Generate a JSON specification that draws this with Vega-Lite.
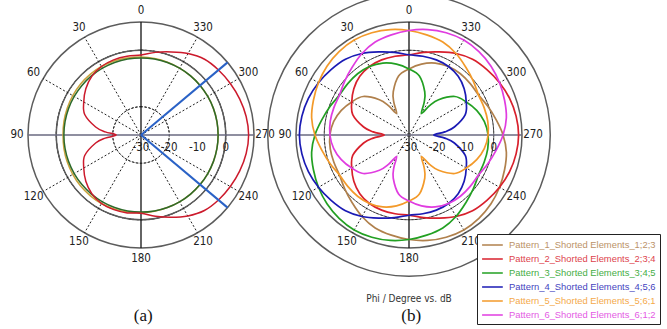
{
  "$schema": "https://vega.github.io/schema/vega-lite/v6.json",
  "width": 667,
  "height": 329,
  "padding": 0,
  "autosize": {"type": "none"},
  "background": "white",
  "config": {"view": {"stroke": null}},
  "datasets": {
    "rings": [
      {"panel": "a", "db": -20}, {"panel": "a", "db": -10}, {"panel": "a", "db": 0}, {"panel": "a", "db": 10},
      {"panel": "b", "db": -20}, {"panel": "b", "db": -10}, {"panel": "b", "db": 0}, {"panel": "b", "db": 10}
    ],
    "spokes": [
      {"panel": "a", "phi": 30}, {"panel": "a", "phi": 60}, {"panel": "a", "phi": 120}, {"panel": "a", "phi": 150},
      {"panel": "a", "phi": 210}, {"panel": "a", "phi": 240}, {"panel": "a", "phi": 300}, {"panel": "a", "phi": 330},
      {"panel": "b", "phi": 30}, {"panel": "b", "phi": 60}, {"panel": "b", "phi": 120}, {"panel": "b", "phi": 150},
      {"panel": "b", "phi": 210}, {"panel": "b", "phi": 240}, {"panel": "b", "phi": 300}, {"panel": "b", "phi": 330}
    ],
    "axes": [
      {"panel": "a", "phi": 0, "k": "v"}, {"panel": "a", "phi": 90, "k": "h"},
      {"panel": "b", "phi": 0, "k": "v"}, {"panel": "b", "phi": 90, "k": "h"}
    ],
    "beams": [{"panel": "a", "phi": 230}, {"panel": "a", "phi": 310}],
    "angles": [
      {"panel": "a", "phi": 0}, {"panel": "a", "phi": 30}, {"panel": "a", "phi": 60}, {"panel": "a", "phi": 90},
      {"panel": "a", "phi": 120}, {"panel": "a", "phi": 150}, {"panel": "a", "phi": 180}, {"panel": "a", "phi": 210},
      {"panel": "a", "phi": 240}, {"panel": "a", "phi": 270}, {"panel": "a", "phi": 300}, {"panel": "a", "phi": 330},
      {"panel": "b", "phi": 0}, {"panel": "b", "phi": 30}, {"panel": "b", "phi": 60}, {"panel": "b", "phi": 90},
      {"panel": "b", "phi": 120}, {"panel": "b", "phi": 150}, {"panel": "b", "phi": 180}, {"panel": "b", "phi": 210},
      {"panel": "b", "phi": 240}, {"panel": "b", "phi": 270}, {"panel": "b", "phi": 300}, {"panel": "b", "phi": 330}
    ],
    "rlab": [
      {"panel": "a", "db": -30, "lab": "-30"}, {"panel": "a", "db": -20, "lab": "-20"}, {"panel": "a", "db": -10, "lab": "-10"}, {"panel": "a", "db": 0, "lab": "0"},
      {"panel": "b", "db": -30, "lab": "-30"}, {"panel": "b", "db": -20, "lab": "-20"}, {"panel": "b", "db": -10, "lab": "-10"}, {"panel": "b", "db": 0, "lab": "0"}
    ],
    "caps": [{"panel": "a", "lab": "(a)"}, {"panel": "b", "lab": "(b)"}],
    "note": [{"panel": "b", "lab": "Phi / Degree vs. dB"}],
    "names": [
      {"p": "P1", "name": "Pattern_1_Shorted Elements_1;2;3"},
      {"p": "P2", "name": "Pattern_2_Shorted Elements_2;3;4"},
      {"p": "P3", "name": "Pattern_3_Shorted Elements_3;4;5"},
      {"p": "P4", "name": "Pattern_4_Shorted Elements_4;5;6"},
      {"p": "P5", "name": "Pattern_5_Shorted Elements_5;6;1"},
      {"p": "P6", "name": "Pattern_6_Shorted Elements_6;1;2"}
    ],
    "patA": [
      {"phi": 0, "red": -1.7, "green": -2.7, "olive": -2.4},
      {"phi": 10, "red": -1.7, "green": -2.7, "olive": -2.3},
      {"phi": 20, "red": -1.7, "green": -2.7, "olive": -2.1},
      {"phi": 30, "red": -2.0, "green": -2.7, "olive": -2.0},
      {"phi": 40, "red": -2.9, "green": -2.7, "olive": -2.0},
      {"phi": 50, "red": -4.5, "green": -2.7, "olive": -2.0},
      {"phi": 60, "red": -6.6, "green": -2.7, "olive": -2.1},
      {"phi": 70, "red": -8.8, "green": -2.7, "olive": -2.2},
      {"phi": 80, "red": -13.7, "green": -2.7, "olive": -2.3},
      {"phi": 85, "red": -17.3},
      {"phi": 90, "red": -21.2, "green": -2.7, "olive": -2.4},
      {"phi": 95, "red": -17.3},
      {"phi": 100, "red": -13.7, "green": -2.7, "olive": -2.3},
      {"phi": 110, "red": -8.8, "green": -2.7, "olive": -2.2},
      {"phi": 120, "red": -6.6, "green": -2.7, "olive": -2.1},
      {"phi": 130, "red": -4.5, "green": -2.7, "olive": -2.0},
      {"phi": 140, "red": -2.9, "green": -2.7, "olive": -2.0},
      {"phi": 150, "red": -2.0, "green": -2.7, "olive": -2.0},
      {"phi": 160, "red": -1.9, "green": -2.7, "olive": -2.1},
      {"phi": 170, "red": -2.0, "green": -2.7, "olive": -2.3},
      {"phi": 180, "red": -2.3, "green": -2.7, "olive": -2.5},
      {"phi": 190, "red": -0.8, "green": -2.7, "olive": -2.6},
      {"phi": 200, "red": 1.0, "green": -2.7, "olive": -2.7},
      {"phi": 210, "red": 3.1, "green": -2.7, "olive": -2.7},
      {"phi": 220, "red": 4.9, "green": -2.7, "olive": -2.7},
      {"phi": 230, "red": 5.8, "green": -2.7, "olive": -2.7},
      {"phi": 240, "red": 6.5, "green": -2.7, "olive": -2.7},
      {"phi": 250, "red": 7.2, "green": -2.7, "olive": -2.7},
      {"phi": 260, "red": 7.8, "green": -2.7, "olive": -2.7},
      {"phi": 270, "red": 8.1, "green": -2.7, "olive": -2.7},
      {"phi": 280, "red": 7.8, "green": -2.7, "olive": -2.7},
      {"phi": 290, "red": 7.2, "green": -2.7, "olive": -2.7},
      {"phi": 300, "red": 6.5, "green": -2.7, "olive": -2.7},
      {"phi": 310, "red": 5.8, "green": -2.7, "olive": -2.7},
      {"phi": 320, "red": 5.0, "green": -2.7, "olive": -2.7},
      {"phi": 330, "red": 3.3, "green": -2.7, "olive": -2.7},
      {"phi": 340, "red": 1.3, "green": -2.7, "olive": -2.6},
      {"phi": 350, "red": -0.3, "green": -2.7, "olive": -2.5}
    ],
    "patB": [
      {"phi": 0, "P1": -6.6, "P2": -1.6, "P3": -6.6, "P4": -1.6, "P5": 7.0, "P6": 7.0},
      {"phi": 10, "P1": -8.8, "P2": -1.7, "P3": -4.5, "P4": -0.3, "P5": 7.9, "P6": 6.0},
      {"phi": 20, "P1": -13.7, "P2": -1.7, "P3": -2.9, "P4": 1.3, "P5": 8.5, "P6": 5.0},
      {"phi": 25, "P1": -17.3},
      {"phi": 30, "P1": -21.2, "P2": -2.0, "P3": -2.0, "P4": 3.3, "P5": 8.8, "P6": 3.3},
      {"phi": 35, "P1": -17.3},
      {"phi": 40, "P1": -13.7, "P2": -2.9, "P3": -1.7, "P4": 5.0, "P5": 8.5, "P6": 1.3},
      {"phi": 50, "P1": -8.8, "P2": -4.5, "P3": -1.7, "P4": 6.0, "P5": 7.9, "P6": -0.3},
      {"phi": 60, "P1": -6.6, "P2": -6.6, "P3": -1.6, "P4": 7.0, "P5": 7.0, "P6": -1.6},
      {"phi": 70, "P1": -4.5, "P2": -8.8, "P3": -0.3, "P4": 7.9, "P5": 6.0, "P6": -1.7},
      {"phi": 80, "P1": -2.9, "P2": -13.7, "P3": 1.3, "P4": 8.5, "P5": 5.0, "P6": -1.7},
      {"phi": 85, "P2": -17.3},
      {"phi": 90, "P1": -2.0, "P2": -21.2, "P3": 3.3, "P4": 8.8, "P5": 3.3, "P6": -2.0},
      {"phi": 95, "P2": -17.3},
      {"phi": 100, "P1": -1.7, "P2": -13.7, "P3": 5.0, "P4": 8.5, "P5": 1.3, "P6": -2.9},
      {"phi": 110, "P1": -1.7, "P2": -8.8, "P3": 6.0, "P4": 7.9, "P5": -0.3, "P6": -4.5},
      {"phi": 120, "P1": -1.6, "P2": -6.6, "P3": 7.0, "P4": 7.0, "P5": -1.6, "P6": -6.6},
      {"phi": 130, "P1": -0.3, "P2": -4.5, "P3": 7.9, "P4": 6.0, "P5": -1.7, "P6": -8.8},
      {"phi": 140, "P1": 1.3, "P2": -2.9, "P3": 8.5, "P4": 5.0, "P5": -1.7, "P6": -13.7},
      {"phi": 145, "P6": -17.3},
      {"phi": 150, "P1": 3.3, "P2": -2.0, "P3": 8.8, "P4": 3.3, "P5": -2.0, "P6": -21.2},
      {"phi": 155, "P6": -17.3},
      {"phi": 160, "P1": 5.0, "P2": -1.7, "P3": 8.5, "P4": 1.3, "P5": -2.9, "P6": -13.7},
      {"phi": 170, "P1": 6.0, "P2": -1.7, "P3": 7.9, "P4": -0.3, "P5": -4.5, "P6": -8.8},
      {"phi": 180, "P1": 7.0, "P2": -1.6, "P3": 7.0, "P4": -1.6, "P5": -6.6, "P6": -6.6},
      {"phi": 190, "P1": 7.9, "P2": -0.3, "P3": 6.0, "P4": -1.7, "P5": -8.8, "P6": -4.5},
      {"phi": 200, "P1": 8.5, "P2": 1.3, "P3": 5.0, "P4": -1.7, "P5": -13.7, "P6": -2.9},
      {"phi": 205, "P5": -17.3},
      {"phi": 210, "P1": 8.8, "P2": 3.3, "P3": 3.3, "P4": -2.0, "P5": -21.2, "P6": -2.0},
      {"phi": 215, "P5": -17.3},
      {"phi": 220, "P1": 8.5, "P2": 5.0, "P3": 1.3, "P4": -2.9, "P5": -13.7, "P6": -1.7},
      {"phi": 230, "P1": 7.9, "P2": 6.0, "P3": -0.3, "P4": -4.5, "P5": -8.8, "P6": -1.7},
      {"phi": 240, "P1": 7.0, "P2": 7.0, "P3": -1.6, "P4": -6.6, "P5": -6.6, "P6": -1.6},
      {"phi": 250, "P1": 6.0, "P2": 7.9, "P3": -1.7, "P4": -8.8, "P5": -4.5, "P6": -0.3},
      {"phi": 260, "P1": 5.0, "P2": 8.5, "P3": -1.7, "P4": -13.7, "P5": -2.9, "P6": 1.3},
      {"phi": 265, "P4": -17.3},
      {"phi": 270, "P1": 3.3, "P2": 8.8, "P3": -2.0, "P4": -21.2, "P5": -2.0, "P6": 3.3},
      {"phi": 275, "P4": -17.3},
      {"phi": 280, "P1": 1.3, "P2": 8.5, "P3": -2.9, "P4": -13.7, "P5": -1.7, "P6": 5.0},
      {"phi": 290, "P1": -0.3, "P2": 7.9, "P3": -4.5, "P4": -8.8, "P5": -1.7, "P6": 6.0},
      {"phi": 300, "P1": -1.6, "P2": 7.0, "P3": -6.6, "P4": -6.6, "P5": -1.6, "P6": 7.0},
      {"phi": 310, "P1": -1.7, "P2": 6.0, "P3": -8.8, "P4": -4.5, "P5": -0.3, "P6": 7.9},
      {"phi": 320, "P1": -1.7, "P2": 5.0, "P3": -13.7, "P4": -2.9, "P5": 1.3, "P6": 8.5},
      {"phi": 325, "P3": -17.3},
      {"phi": 330, "P1": -2.0, "P2": 3.3, "P3": -21.2, "P4": -2.0, "P5": 3.3, "P6": 8.8},
      {"phi": 335, "P3": -17.3},
      {"phi": 340, "P1": -2.9, "P2": 1.3, "P3": -13.7, "P4": -1.7, "P5": 5.0, "P6": 8.5},
      {"phi": 350, "P1": -4.5, "P2": -0.3, "P3": -8.8, "P4": -1.7, "P5": 6.0, "P6": 7.9}
    ]
  },
  "encoding": {
    "x": {"field": "x", "type": "quantitative", "scale": {"domain": [0, 236.106], "nice": false, "zero": false}, "axis": null},
    "y": {"field": "y", "type": "quantitative", "scale": {"domain": [0, 116.46], "nice": false, "zero": false}, "axis": null}
  },
  "layer": [
    {
      "data": {"name": "rings"},
      "transform": [
        {"filter": "datum.db < 10"},
        {"calculate": "datum.panel == 'a' ? 49.912 : 144.779", "as": "x"},
        {"calculate": "68.673", "as": "y"}
      ],
      "mark": {"type": "arc", "filled": false, "fillOpacity": 0, "stroke": "#222222", "strokeWidth": 1, "strokeDash": [2, 2], "theta": 0, "theta2": 6.2832},
      "encoding": {"radius": {"field": "db", "type": "quantitative", "scale": {"type": "linear", "domain": [-30, 10], "range": [0, 113], "zero": false}}}
    },
    {
      "data": {"name": "rings"},
      "transform": [
        {"filter": "datum.db >= 10"},
        {"calculate": "datum.panel == 'a' ? 49.912 : 144.779", "as": "x"},
        {"calculate": "68.673", "as": "y"}
      ],
      "mark": {"type": "arc", "filled": false, "fillOpacity": 0, "stroke": "#5c5c5c", "strokeWidth": 1.5, "theta": 0, "theta2": 6.2832},
      "encoding": {"radius": {"field": "db", "type": "quantitative", "scale": {"type": "linear", "domain": [-30, 10], "range": [0, 113], "zero": false}}}
    },
    {
      "data": {"name": "spokes"},
      "transform": [
        {"calculate": "datum.panel == 'a' ? 49.912 : 144.779", "as": "x"},
        {"calculate": "68.673", "as": "y"},
        {"calculate": "datum.x - 40 * sin(datum.phi * PI / 180)", "as": "x2"},
        {"calculate": "datum.y + 40 * cos(datum.phi * PI / 180)", "as": "y2"}
      ],
      "mark": {"type": "rule", "stroke": "#222222", "strokeWidth": 1, "strokeDash": [2, 2]},
      "encoding": {"x2": {"field": "x2"}, "y2": {"field": "y2"}}
    },
    {
      "data": {"name": "axes"},
      "transform": [
        {"calculate": "datum.panel == 'a' ? 49.912 : 144.779", "as": "cx"},
        {"calculate": "datum.cx - 40 * sin(datum.phi * PI / 180)", "as": "x"},
        {"calculate": "68.673 + 40 * cos(datum.phi * PI / 180)", "as": "y"},
        {"calculate": "datum.cx + 40 * sin(datum.phi * PI / 180)", "as": "x2"},
        {"calculate": "68.673 - 40 * cos(datum.phi * PI / 180)", "as": "y2"}
      ],
      "mark": {"type": "rule", "strokeWidth": 1.3},
      "encoding": {
        "x2": {"field": "x2"},
        "y2": {"field": "y2"},
        "color": {"condition": {"test": "datum.k == 'h'", "value": "#6a6a80"}, "value": "#111111"}
      }
    },
    {
      "data": {"name": "patA"},
      "transform": [
        {"fold": ["olive", "green", "red"], "as": ["s", "db"]},
        {"filter": "isValid(datum.db)"},
        {"calculate": "datum.db + 30", "as": "r"},
        {"calculate": "49.912 - datum.r * sin(datum.phi * PI / 180)", "as": "x"},
        {"calculate": "68.673 + datum.r * cos(datum.phi * PI / 180)", "as": "y"}
      ],
      "mark": {"type": "line", "interpolate": "cardinal-closed", "tension": 0, "strokeWidth": 1.5},
      "encoding": {
        "stroke": {"field": "s", "type": "nominal", "scale": {"domain": ["olive", "green", "red"], "range": ["#c9a23c", "#2d6a2a", "#cc1a2c"]}, "legend": null},
        "order": {"field": "phi", "type": "quantitative"}
      }
    },
    {
      "data": {"name": "beams"},
      "transform": [
        {"calculate": "49.912", "as": "x"},
        {"calculate": "68.673", "as": "y"},
        {"calculate": "datum.x - 40 * sin(datum.phi * PI / 180)", "as": "x2"},
        {"calculate": "datum.y + 40 * cos(datum.phi * PI / 180)", "as": "y2"}
      ],
      "mark": {"type": "rule", "stroke": "#2a62c6", "strokeWidth": 2},
      "encoding": {"x2": {"field": "x2"}, "y2": {"field": "y2"}}
    },
    {
      "data": {"name": "patB"},
      "transform": [
        {"fold": ["P1", "P2", "P3", "P4", "P5", "P6"], "as": ["p", "db"]},
        {"filter": "isValid(datum.db)"},
        {"lookup": "p", "from": {"data": {"name": "names"}, "key": "p", "fields": ["name"]}},
        {"calculate": "datum.db + 30", "as": "r"},
        {"calculate": "144.779 - datum.r * sin(datum.phi * PI / 180)", "as": "x"},
        {"calculate": "68.673 + datum.r * cos(datum.phi * PI / 180)", "as": "y"}
      ],
      "mark": {"type": "line", "interpolate": "cardinal-closed", "tension": 0, "strokeWidth": 1.7},
      "encoding": {
        "color": {
          "field": "name",
          "type": "nominal",
          "scale": {
            "domain": ["Pattern_1_Shorted Elements_1;2;3", "Pattern_2_Shorted Elements_2;3;4", "Pattern_3_Shorted Elements_3;4;5", "Pattern_4_Shorted Elements_4;5;6", "Pattern_5_Shorted Elements_5;6;1", "Pattern_6_Shorted Elements_6;1;2"],
            "range": ["#b0804c", "#d8202c", "#22a022", "#1a1ab4", "#f39a2a", "#e03ce0"]
          },
          "legend": {
            "orient": "none",
            "legendX": 477,
            "legendY": 234,
            "title": null,
            "symbolType": "M-1,0H2.5",
            "symbolSize": 140,
            "symbolStrokeWidth": 1.5,
            "labelFontSize": 9.4,
            "labelFont": "Liberation Sans",
            "labelOffset": 14,
            "labelLimit": 300,
            "rowPadding": 2,
            "padding": 4,
            "strokeColor": "#222222",
            "fillColor": "white",
            "encode": {"labels": {"update": {"fill": {"scale": "color", "field": "value"}, "opacity": {"value": 0.85}}}}
          }
        },
        "order": {"field": "phi", "type": "quantitative"}
      }
    },
    {
      "data": {"name": "angles"},
      "transform": [
        {"calculate": "datum.panel == 'a' ? 49.912 : 144.779", "as": "cx"},
        {"calculate": "datum.cx - 43.9 * sin(datum.phi * PI / 180)", "as": "x"},
        {"calculate": "68.673 + 43.9 * cos(datum.phi * PI / 180)", "as": "y"}
      ],
      "mark": {"type": "text", "font": "DejaVu Sans Condensed, DejaVu Sans", "fontSize": 11.5, "fill": "#222222", "align": "center", "baseline": "middle"},
      "encoding": {"text": {"field": "phi", "type": "quantitative", "format": "d"}}
    },
    {
      "data": {"name": "rlab"},
      "transform": [
        {"calculate": "(datum.panel == 'a' ? 49.912 : 144.779) + datum.db + 30", "as": "x"},
        {"calculate": "68.673", "as": "y"}
      ],
      "mark": {"type": "text", "font": "DejaVu Sans Condensed, DejaVu Sans", "fontSize": 11.5, "fill": "#222222", "align": "center", "baseline": "middle", "dy": 13},
      "encoding": {"text": {"field": "lab", "type": "nominal"}}
    },
    {
      "data": {"name": "caps"},
      "transform": [
        {"calculate": "(datum.panel == 'a' ? 49.912 : 144.779) + 0.8", "as": "x"},
        {"calculate": "68.673 - 64.2", "as": "y"}
      ],
      "mark": {"type": "text", "font": "Liberation Serif", "fontSize": 17, "fill": "#111111", "align": "center", "baseline": "middle"},
      "encoding": {"text": {"field": "lab", "type": "nominal"}}
    },
    {
      "data": {"name": "note"},
      "transform": [
        {"calculate": "144.779", "as": "x"},
        {"calculate": "68.673 - 58.05", "as": "y"}
      ],
      "mark": {"type": "text", "font": "DejaVu Sans Condensed, DejaVu Sans", "fontSize": 10, "fill": "#333333", "align": "center", "baseline": "middle"},
      "encoding": {"text": {"field": "lab", "type": "nominal"}}
    }
  ]
}
